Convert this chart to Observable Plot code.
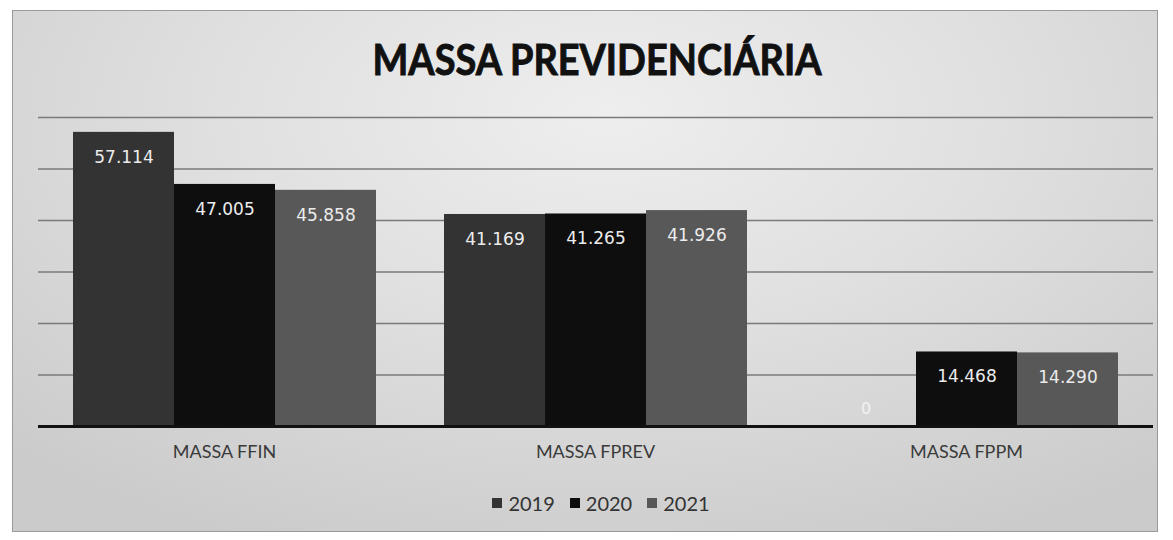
<!DOCTYPE html>
<html>
<head>
<meta charset="utf-8">
<script src="https://cdn.jsdelivr.net/npm/d3@7"></script>
<script src="https://cdn.jsdelivr.net/npm/@observablehq/plot@0.6"></script>
<style>
  html, body { margin: 0; padding: 0; background: #ffffff; }
  #root { position: relative; width: 1173px; height: 540px; overflow: hidden; }
  #frame {
    position: absolute; left: 12px; top: 10px; width: 1146px; height: 522px;
    background: radial-gradient(ellipse 75% 90% at 52% 20%, #eeeeee 0%, #e0e0e0 45%, #cbcbcb 100%);
    border: 1px solid #9a9a9a; box-sizing: border-box;
  }
  #title { position: absolute; left: 0; top: 0; }
  #grid, #bars { position: absolute; left: 0; top: 95px; }
  #legend { position: absolute; left: 22px; top: 486px; width: 1173px; }
  .lg-swatches-wrap { justify-content: center; }
  .lg-swatch { margin-right: 15px !important; }
  .lg-swatch > svg { margin-right: 6px !important; }
</style>
</head>
<body>
<div id="root">
  <div id="frame"></div>
  <svg id="title" width="1173" height="95">
    <text x="597" y="75" text-anchor="middle" textLength="449" lengthAdjust="spacingAndGlyphs"
      font-family="Lato, 'Open Sans', sans-serif" font-weight="bold" font-size="42" fill="#111111"
      stroke="#111111" stroke-width="0.9">MASSA PREVIDENCIÁRIA</text>
  </svg>
  <div id="grid"></div>
  <div id="bars"></div>
  <div id="legend"></div>
</div>
<script>
const categories = ["MASSA FFIN", "MASSA FPREV", "MASSA FPPM"];
const years = ["2019", "2020", "2021"];
const values2019 = [57.114, 41.169, 0];
const values2020 = [47.005, 41.265, 14.468];
const values2021 = [45.858, 41.926, 14.290];
const yTicks = [0, 10, 20, 30, 40, 50, 60];
const colors = ["#333333", "#0e0e0e", "#585858"];

const series = [values2019, values2020, values2021];
const data = categories.flatMap((c, i) =>
  years.map((y, j) => ({category: c, year: y, value: series[j][i]}))
);
const fmt = v => v === 0 ? "0" : v.toFixed(3);

const W = 1173, H = 372;
const margins = {marginTop: 22, marginBottom: 41, marginLeft: 38, marginRight: 20};

const grid = Plot.plot({
  width: W, height: H, ...margins,
  style: {background: "transparent"},
  x: {axis: null},
  y: {domain: [0, 60], axis: null},
  marks: [
    Plot.ruleY(yTicks.filter(t => t > 0), {stroke: "#7a7a7a", strokeWidth: 1.3}),
    Plot.ruleY([0], {stroke: "#111111", strokeWidth: 3})
  ]
});
document.getElementById("grid").appendChild(grid);

const bars = Plot.plot({
  width: W, height: H, ...margins,
  style: {background: "transparent", fontFamily: "Lato, sans-serif", fontSize: "18px", color: "#3a3a3a"},
  fx: {domain: categories, paddingInner: 0.18, paddingOuter: 0.09, label: null, axis: "bottom", tickSize: 0, tickPadding: 19},
  x: {domain: years, padding: 0, axis: null},
  y: {domain: [0, 60], axis: null},
  color: {domain: years, range: colors},
  marks: [
    Plot.barY(data, {fx: "category", x: "year", y: "value", fill: "year"}),
    Plot.ruleY([0], {stroke: "#111111", strokeWidth: 3}),
    Plot.text(data.filter(d => d.value > 0), {fx: "category", x: "year", y: "value", text: d => fmt(d.value),
      dy: 25, fill: "#ececec", fontFamily: "DejaVu Sans, sans-serif", fontSize: 17}),
    Plot.text(data.filter(d => d.value === 0), {fx: "category", x: "year", y: "value", text: d => fmt(d.value),
      dy: -18, fill: "#f2f2f2", fontFamily: "DejaVu Sans, sans-serif", fontSize: 16})
  ]
});
document.getElementById("bars").appendChild(bars);

const legend = Plot.legend({
  color: {domain: years, range: colors},
  legend: "swatches",
  swatchSize: 10,
  className: "lg",
  style: {fontFamily: "Lato, sans-serif", fontSize: "20px", color: "#333333", background: "transparent"}
});
document.getElementById("legend").appendChild(legend);
</script>
</body>
</html>
